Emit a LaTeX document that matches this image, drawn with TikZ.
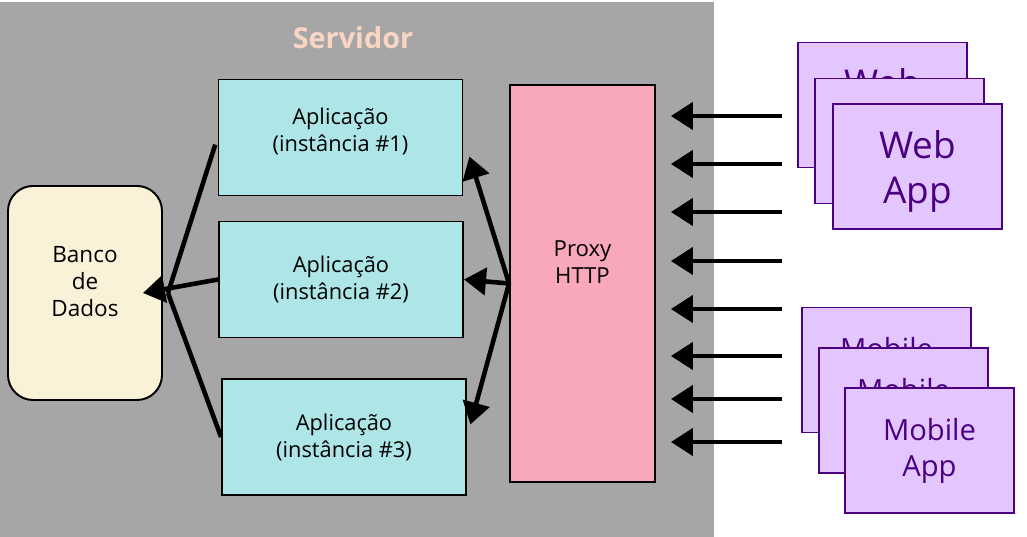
\documentclass[tikz,border=0pt]{standalone}
\usepackage{fontspec}
\setmainfont{Open Sans}
\usetikzlibrary{arrows.meta}

\definecolor{servergray}{HTML}{A6A6A6}
\definecolor{servertext}{HTML}{FBD5C4}
\definecolor{appcyan}{HTML}{AEE6E8}
\definecolor{proxypink}{HTML}{F9A7BB}
\definecolor{dbcream}{HTML}{F9F1D8}
\definecolor{clientfill}{HTML}{E2C6FD}
\definecolor{clientline}{HTML}{4B0082}

\begin{document}
\begin{tikzpicture}[
    box/.style={draw=black, line width=1.1pt, align=center, inner sep=0pt},
    appbox/.style={box, fill=appcyan, minimum width=4.88cm, minimum height=2.32cm,
        font=\fontsize{12.4}{15.4}\selectfont},
    client/.style={draw=clientline, line width=1.1pt, fill=clientfill, text=clientline,
        align=center, minimum width=3.38cm, minimum height=2.5cm},
    webtext/.style={font=\fontsize{21}{25.6}\selectfont, text depth=-0.3cm},
    mobtext/.style={font=\fontsize{16.6}{20.5}\selectfont},
    flow/.style={line width=2.6pt, -{Triangle[length=0.44cm,width=0.54cm]}},
    link/.style={line width=2.6pt}
]
    % Page size
    \useasboundingbox (0, 0) rectangle (20.54, 10.74);

    % Server area
    \fill[servergray] (0, 0) rectangle (14.28, 10.70);
    \node[text=servertext, font=\fontsize{16.4}{19}\selectfont\bfseries] (servidor) at (7.06, 9.98) {Servidor};

    % Database
    \node[box, fill=dbcream, rounded corners=0.5cm, minimum width=3.08cm, minimum height=4.28cm,
        text depth=0.45cm, font=\fontsize{12.8}{15.4}\selectfont] (db) at (1.70, 4.88) {Banco\\de\\Dados};

    % Application instances
    \node[appbox, text depth=0.3cm] (app1) at (6.81, 7.99) {Aplicação\\(instância \#1)};
    \node[appbox] (app2) at (6.82, 5.15) {Aplicação\\(instância \#2)};
    \node[appbox] (app3) at (6.88, 2.00) {Aplicação\\(instância \#3)};

    % Proxy
    \node[box, fill=proxypink, minimum width=2.9cm, minimum height=7.94cm, text depth=0.86cm,
        font=\fontsize{12.6}{15.4}\selectfont] (proxy) at (11.65, 5.07) {Proxy\\HTTP};

    % Web clients (back to front)
    \node[client, webtext] (web1) at (17.65, 8.64) {Web\\App};
    \node[client, webtext] (web2) at (17.99, 7.92) {Web\\App};
    \node[client, webtext] (web3) at (18.35, 7.41) {Web\\App};

    % Mobile clients (back to front)
    \node[client, mobtext] (mob1) at (17.73, 3.34) {Mobile\\App};
    \node[client, mobtext] (mob2) at (18.07, 2.53) {Mobile\\App};
    \node[client, mobtext] (mob3) at (18.59, 1.73) {Mobile\\App};

    % Incoming requests
    \foreach \y [count=\i] in {8.42, 7.46, 6.50, 5.52, 4.56, 3.62, 2.76, 1.90} {
        \coordinate (req\i) at (15.64, \y);
        \draw[flow, shorten >=0.3cm] (req\i) -- (proxy.east |- req\i);
    }

    % Proxy to instances
    \draw[flow, shorten >=0.4cm] (proxy.west) -- (app1.east);
    \draw[flow] (proxy.west) -- (app2.east);
    \draw[flow, shorten >=0.26cm] (proxy.west) -- (app3.east);

    % Instances to database
    \coordinate (dbtip) at ([xshift=-0.4cm]db.east);
    \coordinate (dbmeet) at ([xshift=0.1cm]db.east);
    \draw[link, shorten <=0.15cm] (app1.west) -- (dbmeet);
    \draw[link] (app3.west) -- (dbmeet);
    \draw[flow] (app2.west) -- (dbtip);
\end{tikzpicture}
\end{document}
